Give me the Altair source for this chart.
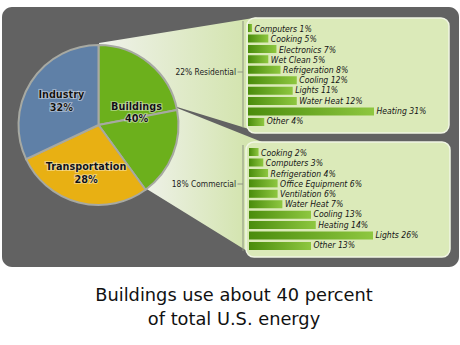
import math
import altair as alt
import pandas as pd

# ---------------- data ----------------
pie_slices = ["Residential", "Commercial", "Transportation", "Industry"]
pie_sectors = ["Buildings", "Buildings", "Transportation", "Industry"]
pie_shares = [22, 18, 28, 32]

sector_names = ["Buildings", "Transportation", "Industry"]
sector_shares = [40, 28, 32]

res_uses = ["Computers", "Cooking", "Electronics", "Wet Clean", "Refrigeration",
            "Cooling", "Lights", "Water Heat", "Heating", "Other"]
res_shares = [1, 5, 7, 5, 8, 12, 11, 12, 31, 4]

com_uses = ["Cooking", "Computers", "Refrigeration", "Office Equipment", "Ventilation",
            "Water Heat", "Cooling", "Heating", "Lights", "Other"]
com_shares = [2, 3, 4, 6, 6, 7, 13, 14, 26, 13]

title_lines = ["Buildings use about 40 percent", "of total U.S. energy"]

# ---------------- layout / style ----------------
W, H = 460, 345
COND = "DejaVu Sans Condensed, Liberation Sans Narrow, sans-serif"
TITLE_FONT = "DejaVu Sans, Verdana, sans-serif"
PANEL_COLOR = "#626262"
BOX_FILL = "#dbeab9"
BOX_STROKE = "#f1f6e4"
SECTOR_COLORS = ["#6cb01c", "#e8b013", "#5f80a7"]
LABEL_RADIUS = {"Buildings": 40, "Transportation": 50, "Industry": 44}
CX, CY, R = 98.5, 125, 80
BOX_RES = (247, 449, 18, 133)
BOX_COM = (246, 450, 142, 257)
RES_X, RES_Y = [248, 374], [24, 126]
COM_X, COM_Y = [249, 373], [148, 250]

ONE = pd.DataFrame({"k": [1]})

bar_grad = alt.Gradient(
    gradient="linear", x1=0, x2=1, y1=0, y2=0,
    stops=[alt.GradientStop(color="#4a8c0c", offset=0),
           alt.GradientStop(color="#8ec740", offset=1)])


def intersect(p1, p2, p3, p4):
    x1, y1 = p1; x2, y2 = p2; x3, y3 = p3; x4, y4 = p4
    d = (x1 - x2) * (y3 - y4) - (y1 - y2) * (x3 - x4)
    a = x1 * y2 - y1 * x2
    b = x3 * y4 - y3 * x4
    return ((a * (x3 - x4) - (x1 - x2) * b) / d, (a * (y3 - y4) - (y1 - y2) * b) / d)


def wedge(top_near, top_far, bot_near, bot_far, far_x, light="#f0f2ec", green="#d3e4ae"):
    ax, ay = intersect(top_near, top_far, bot_near, bot_far)
    ang = lambda p: math.atan2(p[0] - ax, -(p[1] - ay))
    dist = lambda p: math.hypot(p[0] - ax, p[1] - ay)
    t1, t2 = ang(top_far), ang(bot_far)
    r_in = min(dist(top_near), dist(bot_near))
    r_out = max(dist(top_far), dist(bot_far)) + 2
    xs = []
    for i in range(61):
        t = t1 + (t2 - t1) * i / 60
        for r in (r_in, r_out):
            xs.append(ax + r * math.sin(t))
    x0, x1 = min(xs), max(xs)
    off = min(1.0, max(0.0, (far_x - x0) / (x1 - x0)))
    grad = alt.Gradient(
        gradient="linear", x1=0, x2=1, y1=0, y2=0,
        stops=[alt.GradientStop(color=light, offset=0),
               alt.GradientStop(color=green, offset=off),
               alt.GradientStop(color=green, offset=1)])
    return alt.Chart(ONE).mark_arc(
        theta=t1, theta2=t2, outerRadius=r_out, innerRadius=r_in, color=grad
    ).encode(x=alt.value(ax), y=alt.value(ay))


def rect(x, x2, y, y2, **kw):
    return alt.Chart(ONE).mark_rect(**kw).encode(
        x=alt.value(x), x2=alt.value(x2), y=alt.value(y), y2=alt.value(y2))


def rule(x, x2, y, y2):
    return alt.Chart(ONE).mark_rule(color="#8d9382", strokeWidth=1).encode(
        x=alt.value(x), x2=alt.value(x2), y=alt.value(y), y2=alt.value(y2))


def bar_group(uses, shares, xr, yr):
    df = pd.DataFrame({"use": uses, "share": shares})
    df["label"] = df["use"] + " " + df["share"].astype(str) + "%"
    xs = alt.Scale(domain=[0, max(shares)], range=xr, nice=False, zero=True)
    ys = alt.Scale(domain=uses, range=yr, paddingInner=0.23, paddingOuter=0)
    enc = dict(x=alt.X("share:Q", scale=xs, axis=None),
               y=alt.Y("use:N", scale=ys, axis=None))
    bars = alt.Chart(df).mark_bar(color=bar_grad).encode(**enc)
    labels = alt.Chart(df).mark_text(
        align="left", baseline="middle", dx=2.5, font=COND, fontSize=8.6,
        fontStyle="italic", color="#141414"
    ).encode(text="label:N", **enc)
    return [bars, labels]


# ---------------- layers ----------------
background = rect(2, 459, 7, 267, color=PANEL_COLOR, cornerRadius=10)

wedge_res = wedge((99, 43), (247, 19), (177, 107), (247, 128.5), BOX_RES[0])
wedge_com = wedge((177, 108), (247, 136), (145, 188), (247, 251), BOX_COM[0])

box_res = rect(*BOX_RES, color=BOX_FILL, stroke=BOX_STROKE, strokeWidth=1.5, cornerRadius=8)
box_com = rect(*BOX_COM, color=BOX_FILL, stroke=BOX_STROKE, strokeWidth=1.5, cornerRadius=8)

pie_df = pd.DataFrame({"slice": pie_slices, "sector": pie_sectors,
                       "share": pie_shares, "idx": list(range(len(pie_slices)))})
pie = alt.Chart(pie_df).mark_arc(
    outerRadius=R, stroke="#a7a9a2", strokeWidth=2
).encode(
    theta=alt.Theta("share:Q", stack=True),
    color=alt.Color("sector:N", scale=alt.Scale(domain=sector_names, range=SECTOR_COLORS),
                    legend=None),
    detail="slice:N",
    order=alt.Order("idx:Q"),
    x=alt.value(CX), y=alt.value(CY),
)

lab_df = pd.DataFrame({"sector": sector_names, "share": sector_shares,
                       "idx": list(range(len(sector_names)))})
lab_df["label"] = lab_df["sector"] + "\n" + lab_df["share"].astype(str) + "%"
total = sum(sector_shares)


def pie_label_layers(name):
    base = alt.Chart(lab_df).transform_window(
        cum="sum(share)", sort=[alt.SortField("idx")]
    ).transform_calculate(
        mid="datum.cum - datum.share / 2"
    ).transform_filter(alt.datum.sector == name)
    enc = dict(theta=alt.Theta("mid:Q", stack=False,
                               scale=alt.Scale(domain=[0, total], range=[0, 2 * math.pi])),
               text="label:N", x=alt.value(CX), y=alt.value(CY))
    style = dict(radius=LABEL_RADIUS[name], lineBreak="\n", font=COND, fontSize=10.8,
                 fontWeight="bold", baseline="middle", align="center", lineHeight=12.5,
                 dy=-6)
    halo = base.mark_text(stroke="#ffffff", strokeWidth=2.2, strokeOpacity=0.4,
                          color="#ffffff", **style).encode(**enc)
    txt = base.mark_text(color="#111111", **style).encode(**enc)
    return [halo, txt]


pie_text = []
for s in sector_names:
    pie_text += pie_label_layers(s)

group_res = f"{pie_shares[0]}% {pie_slices[0]}"
group_com = f"{pie_shares[1]}% {pie_slices[1]}"
grp_style = dict(align="right", baseline="middle", font=COND, fontSize=8.4, color="#222222")
res_text = alt.Chart(ONE).mark_text(**grp_style).encode(
    x=alt.value(236), y=alt.value(72), text=alt.value(group_res))
com_text = alt.Chart(ONE).mark_text(**grp_style).encode(
    x=alt.value(236), y=alt.value(184), text=alt.value(group_com))

brackets = [rule(243, 243, 21, 128), rule(237.5, 243, 72, 72),
            rule(243, 243, 145, 251), rule(237.5, 243, 184, 184)]

ttl_style = dict(align="center", baseline="alphabetic", font=TITLE_FONT,
                 fontSize=17.8, color="#111111")
title1 = alt.Chart(ONE).mark_text(**ttl_style).encode(
    x=alt.value(234), y=alt.value(301), text=alt.value(title_lines[0]))
title2 = alt.Chart(ONE).mark_text(**ttl_style).encode(
    x=alt.value(234), y=alt.value(325), text=alt.value(title_lines[1]))

layers = ([background, wedge_res, wedge_com, box_res, box_com]
          + brackets + [res_text, com_text]
          + bar_group(res_uses, res_shares, RES_X, RES_Y)
          + bar_group(com_uses, com_shares, COM_X, COM_Y)
          + [pie] + pie_text + [title1, title2])

chart = alt.layer(*layers).resolve_scale(
    x="independent", y="independent", color="independent", theta="independent"
).properties(
    width=W, height=H, padding=0, background="white",
    autosize=alt.AutoSizeParams(type="none"),
).configure_view(stroke=None)

chart.save("out.html", embed_options={"renderer": "svg", "actions": False})
